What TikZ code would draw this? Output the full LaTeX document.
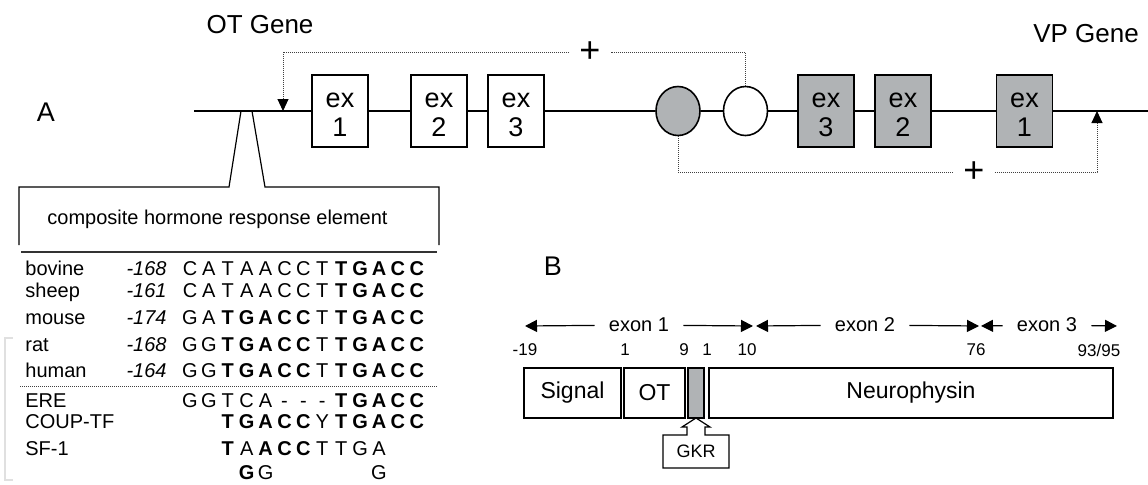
\documentclass[tikz,border=0pt]{standalone}
\usepackage{fontspec}
\setmainfont{Liberation Sans}
\usepackage{xcolor}
\usetikzlibrary{positioning,arrows.meta,shapes.geometric}
\definecolor{exgray}{RGB}{176,179,181}
\newcommand{\bb}[1]{\textbf{#1}}
\newcommand{\exn}[1]{\rule{0pt}{11pt}ex\\#1}

\begin{document}
\begin{tikzpicture}[x=0.5pt, y=-0.5pt,
  every node/.style={font=\fontsize{10}{12}\selectfont},
  gene/.style={line width=1.4pt},
  otex/.style={draw, line width=0.7pt, fill=white, minimum width=28pt, minimum height=36pt,
    inner sep=0pt, align=center, font=\fontsize{13.5}{14.5}\selectfont},
  vpex/.style={otex, fill=exgray},
  hre/.style={draw, ellipse, line width=0.8pt, fill=white, minimum width=22pt,
    minimum height=24.5pt, inner sep=0pt},
  reg/.style={line width=0.5pt, black!75, dash pattern=on 0.5pt off 0.5pt},
  plus/.style={font=\fontsize{18}{18}\selectfont, inner xsep=5pt, inner ysep=0pt},
  title/.style={font=\fontsize{13}{15}\selectfont},
  panel/.style={font=\fontsize{13.5}{15}\selectfont},
  spc/.style={anchor=base west, inner sep=0pt},
  pnum/.style={anchor=base east, inner sep=0pt, font=\fontsize{10}{12}\selectfont\itshape},
  seq/.style={anchor=base, inner sep=0pt},
  pbox/.style={draw, line width=0.6pt, minimum height=25pt, inner sep=0pt, outer sep=0pt,
    font=\fontsize{11.5}{13}\selectfont},
  posnum/.style={font=\fontsize{8.5}{10}\selectfont},
  exlab/.style={inner xsep=7pt},
  span/.style={line width=0.6pt, -{Triangle[length=6pt,width=6pt]}}]
  \useasboundingbox (0,0) rectangle (1148,484);

  % panel A: the two genes
  \node[panel] (lblA) at (46,112) {A};
  \node[title] (otgene) at (260,25) {OT Gene};
  \node[title] (vpgene) at (1086,34) {VP Gene};

  \node[otex] (oex1) at (340,111) {\exn{1}};
  \node[otex] (oex2) at (439,111) {\exn{2}};
  \node[otex] (oex3) at (516,111) {\exn{3}};
  \node[hre, fill=exgray] (gcirc) at (678,111) {};
  \node[hre] (wcirc) at (745.5,111) {};
  \node[vpex] (vex3) at (826,111) {\exn{3}};
  \node[vpex] (vex2) at (903,111) {\exn{2}};
  \node[vpex] (vex1) at (1024.5,111) {\exn{1}};

  \coordinate (lstart) at (194,111);
  \coordinate (rend) at (1148,111);
  \coordinate (otss) at (283,111);
  \coordinate (vpss) at (1097,111);
  \draw[gene] (lstart) -- (oex1) -- (oex2) -- (oex3) -- (gcirc) -- (wcirc)
    -- (vex3) -- (vex2) -- (vex1) -- (rend);

  % regulation loops
  \node[plus] (ptop) at (590,52) {+};
  \node[plus] (pbot) at (974,172) {+};
  \draw[reg] (wcirc.north) |- (ptop);
  \draw[reg, -{Triangle[length=6pt,width=5.5pt,black]}] (ptop) -| (otss);
  \draw[reg] (gcirc.south) |- (pbot);
  \draw[reg, -{Triangle[length=6pt,width=5.5pt,black]}] (pbot) -| (vpss);

  % response element callout
  \draw[line width=0.6pt] (19,245) -- (19,187) -- (229,187) -- (241,111);
  \draw[line width=0.6pt] (252,111) -- (265,187) -- (439,187) -- (439,245);
  \node[anchor=base] (hretext) at (217.5,224) {composite hormone response element};
  \draw[line width=0.6pt, black!80] (21,252) -- (437,252);
  \draw[reg] (20,386) -- (437,386);
  \draw[black!12, line width=0.6pt] (13,338) -- (5,338) -- (5,480) -- (13,480);

  % species and consensus sites
  \foreach \nm/\yy in {bovine/275, sheep/297, mouse/324, rat/351, human/377,
      ERE/407, COUP-TF/428, SF-1/455}
    \node[spc] (sp-\nm) at (25,\yy) {\nm};
  \foreach \nm/\num/\yy in {bovine/168/275, sheep/161/297, mouse/174/324,
      rat/168/351, human/164/377}
    \node[pnum] (num-\nm) at (167,\yy) {-\num};

  \foreach \c [count=\i from 0] in {C,A,T,A,A,C,C,T,\bb T,\bb G,\bb A,\bb C,\bb C}
    \node[seq] (bov-\i) at (190+18.9*\i,275) {\c};
  \foreach \c [count=\i from 0] in {C,A,T,A,A,C,C,T,\bb T,\bb G,\bb A,\bb C,\bb C}
    \node[seq] (shp-\i) at (190+18.9*\i,297) {\c};
  \foreach \c [count=\i from 0] in {G,A,\bb T,\bb G,\bb A,\bb C,\bb C,T,\bb T,\bb G,\bb A,\bb C,\bb C}
    \node[seq] (mou-\i) at (190+18.9*\i,324) {\c};
  \foreach \c [count=\i from 0] in {G,G,\bb T,\bb G,\bb A,\bb C,\bb C,T,\bb T,\bb G,\bb A,\bb C,\bb C}
    \node[seq] (rat-\i) at (190+18.9*\i,351) {\c};
  \foreach \c [count=\i from 0] in {G,G,\bb T,\bb G,\bb A,\bb C,\bb C,T,\bb T,\bb G,\bb A,\bb C,\bb C}
    \node[seq] (hum-\i) at (190+18.9*\i,377) {\c};
  \foreach \c [count=\i from 0] in {G,G,T,C,A,-,-,-,\bb T,\bb G,\bb A,\bb C,\bb C}
    \node[seq] (ere-\i) at (190+18.9*\i,407) {\c};
  \foreach \c [count=\i from 2] in {\bb T,\bb G,\bb A,\bb C,\bb C,Y,\bb T,\bb G,\bb A,\bb C,\bb C}
    \node[seq] (coup-\i) at (190+18.9*\i,428) {\c};
  \foreach \c [count=\i from 2] in {\bb T,A,\bb A,\bb C,\bb C,T,T,G,A}
    \node[seq] (sf-\i) at (190+18.9*\i,455) {\c};
  \foreach \c/\i in {{\bb G}/3, G/4, G/10}
    \node[seq] (alt-\i) at (190+18.9*\i,479) {\c};

  % panel B: precursor
  \node[panel] (lblB) at (553,266) {B};
  \node[pbox, minimum width=48.5pt] (signal) at (572.5,393) {Signal};
  \node[pbox, minimum width=30.5pt] (ot) at (654.5,393) {OT};
  \node[pbox, minimum width=8pt, fill=exgray] (gkrbar) at (696,393) {};
  \node[pbox, minimum width=202pt] (neuro) at (911,393) {Neurophysin};

  \node[posnum] (p-19) at (525,350) {-19};
  \node[posnum] (p-1) at (625,350) {1};
  \node[posnum] (p-9) at (684,350) {9};
  \node[posnum] (p-1b) at (707,350) {1};
  \node[posnum] (p-10) at (747,350) {10};
  \node[posnum] (p-76) at (976,350) {76};
  \node[posnum] (p-93) at (1099,350) {93/95};

  \coordinate (t0) at (525,326);
  \coordinate (t1) at (753,326);
  \coordinate (t2) at (756,326);
  \coordinate (t3) at (979,326);
  \coordinate (t4) at (981,326);
  \coordinate (t5) at (1117,326);
  \node[exlab] (exon1) at (639,325) {exon 1};
  \node[exlab] (exon2) at (865,325) {exon 2};
  \node[exlab] (exon3) at (1047,325) {exon 3};
  \draw[span] (exon1) -- (t0);
  \draw[span] (exon1) -- (t1);
  \draw[span] (exon2) -- (t2);
  \draw[span] (exon2) -- (t3);
  \draw[span] (exon3) -- (t4);
  \draw[span] (exon3) -- (t5);

  % GKR pointer
  \node[minimum width=33pt, minimum height=16.5pt, inner sep=0pt, outer sep=0pt,
    font=\fontsize{9}{10}\selectfont] (gkr) at (696,451.5) {GKR};
  \draw[line width=0.6pt] (gkr.south west) -- (gkr.north west) -- ++(24,0) -- ++(0,-8)
    -- ++(-5,0) -- (gkrbar.south) -- ++(14,9) -- ++(-5,0) -- ++(0,8)
    -- (gkr.north east) -- (gkr.south east) -- cycle;
\end{tikzpicture}
\end{document}
